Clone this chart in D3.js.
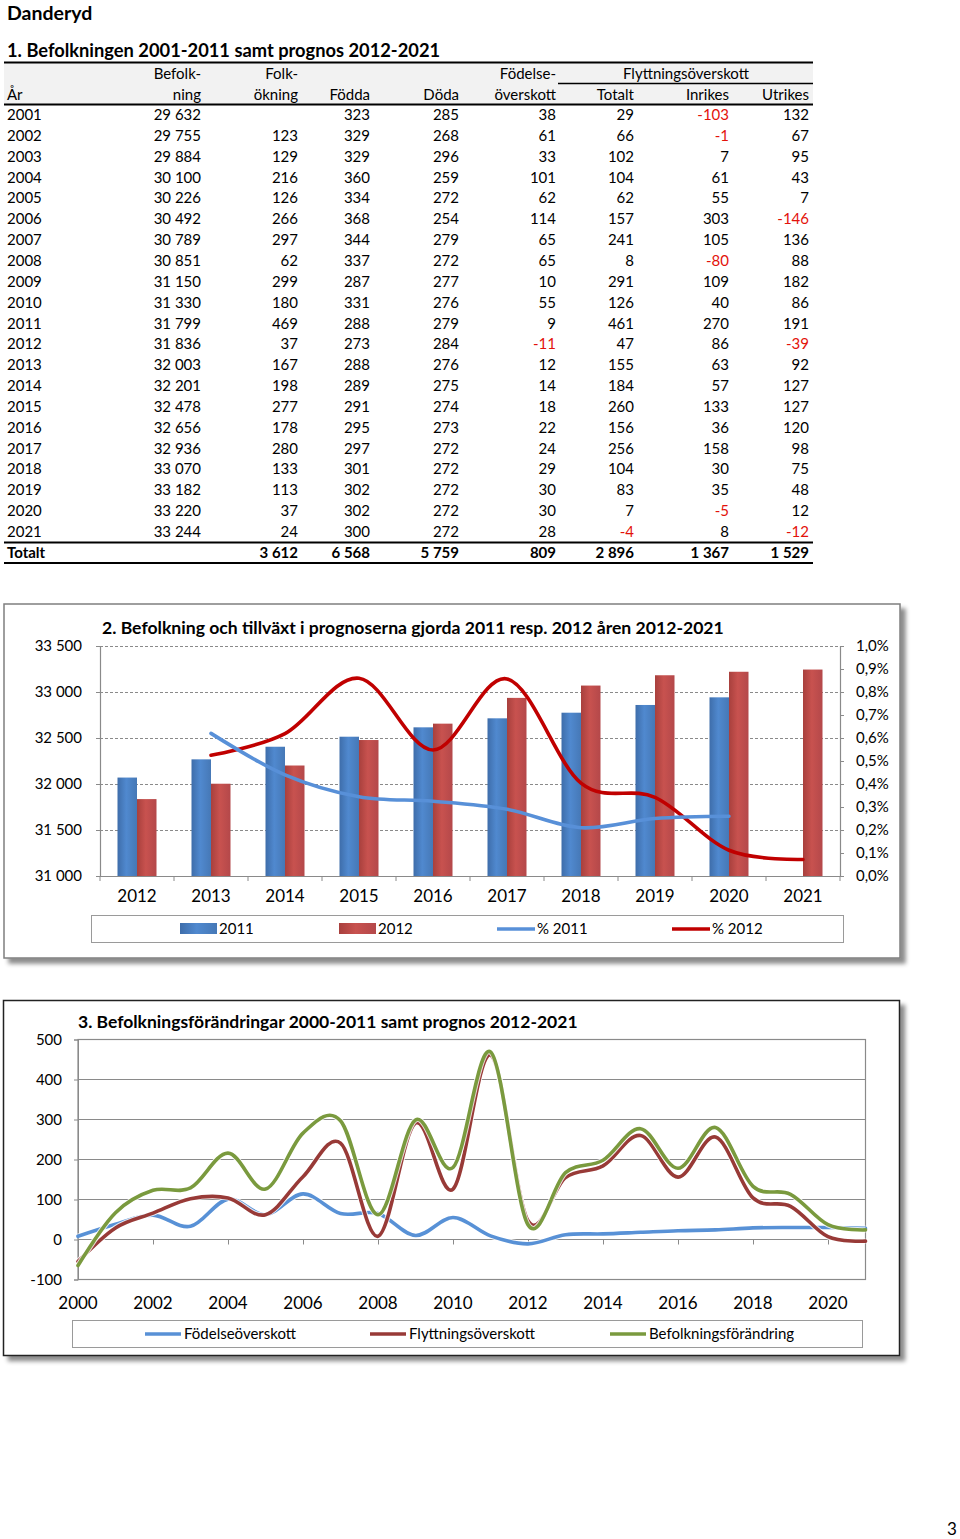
<!DOCTYPE html>
<html><head><meta charset="utf-8">
<script src="https://cdn.jsdelivr.net/npm/d3@7"></script>
<style>
html,body{margin:0;padding:0;background:#fff;}
svg{display:block;font-family:Lato,"Open Sans",sans-serif;}
</style></head>
<body>
<svg id="page" width="960" height="1539"></svg>
<script>
// ---------- DATA: table 1 ----------
const years = [2001,2002,2003,2004,2005,2006,2007,2008,2009,2010,2011,2012,2013,2014,2015,2016,2017,2018,2019,2020,2021];
const befolkning = [29632,29755,29884,30100,30226,30492,30789,30851,31150,31330,31799,31836,32003,32201,32478,32656,32936,33070,33182,33220,33244];
const folkokning = [null,123,129,216,126,266,297,62,299,180,469,37,167,198,277,178,280,133,113,37,24];
const fodda = [323,329,329,360,334,368,344,337,287,331,288,273,288,289,291,295,297,301,302,302,300];
const doda = [285,268,296,259,272,254,279,272,277,276,279,284,276,275,274,273,272,272,272,272,272];
const fodelseoverskott = [38,61,33,101,62,114,65,65,10,55,9,-11,12,14,18,22,24,29,30,30,28];
const flyttTotalt = [29,66,102,104,62,157,241,8,291,126,461,47,155,184,260,156,256,104,83,7,-4];
const flyttInrikes = [-103,-1,7,61,55,303,105,-80,109,40,270,86,63,57,133,36,158,30,35,-5,8];
const flyttUtrikes = [132,67,95,43,7,-146,136,88,182,86,191,-39,92,127,127,120,98,75,48,12,-12];
// totals per column: Befolkning, Folkökning, Födda, Döda, Födelseöverskott, Totalt, Inrikes, Utrikes
const totalRow = [null,3612,6568,5759,809,2896,1367,1529];

// ---------- DATA: chart 2 ----------
const c2Years = ["2012","2013","2014","2015","2016","2017","2018","2019","2020","2021"];
const prog2011 = [32070,32268,32405,32514,32616,32714,32775,32859,32942,null];
const prog2012 = [31836,32003,32201,32478,32656,32936,33070,33182,33220,33244];
const pct2011 = [null,0.0062,0.0044,0.00345,0.00325,0.0029,0.0021,0.0025,0.0026,null];
const pct2012 = [null,0.00525,0.00619,0.0086,0.00548,0.00857,0.00404,0.00342,0.00112,0.00072];
const c2LeftTicks = [31000,31500,32000,32500,33000,33500];
const c2RightTicks = [0,0.001,0.002,0.003,0.004,0.005,0.006,0.007,0.008,0.009,0.01];

// ---------- DATA: chart 3 ----------
const c3Years = [2000,2001,2002,2003,2004,2005,2006,2007,2008,2009,2010,2011,2012,2013,2014,2015,2016,2017,2018,2019,2020,2021];
const c3Fodelse = [8,38,61,33,101,62,114,65,65,10,55,9,-11,12,14,18,22,24,29,30,30,28];
const c3Flytt = [-55,29,66,102,104,62,157,241,8,291,126,461,47,155,184,260,156,256,104,83,7,-4];
const c3Befolk = [-65,67,123,129,216,126,266,297,62,299,180,469,37,167,198,277,178,280,133,113,37,24];
const c3YTicks = [-100,0,100,200,300,400,500];
const c3XTicks = [2000,2002,2004,2006,2008,2010,2012,2014,2016,2018,2020];

// ---------- helpers ----------
const se = d3.formatLocale({decimal:",", thousands:"\u2009", grouping:[3], currency:["","kr"], percent:"%"});
const fmtNum = v => v==null ? "" : se.format(",d")(v).replace(/\u2009/g," ").replace("−","-");
const fmtPct = se.format(".1%");

const svg = d3.select("#page");
svg.append("rect").attr("width",960).attr("height",1539).attr("fill","#fff");
const defs = svg.append("defs");
const sh = defs.append("filter").attr("id","shadow").attr("x","-5%").attr("y","-5%").attr("width","115%").attr("height","115%");
sh.append("feDropShadow").attr("dx",5).attr("dy",5).attr("stdDeviation",2).attr("flood-color","#000").attr("flood-opacity",0.45);

function grad(id, c0, c1, c2){
  const g = defs.append("linearGradient").attr("id",id).attr("x1","0").attr("x2","1").attr("y1","0").attr("y2","0");
  g.append("stop").attr("offset","0").attr("stop-color",c0);
  g.append("stop").attr("offset","0.45").attr("stop-color",c1);
  g.append("stop").attr("offset","1").attr("stop-color",c2);
}
grad("gBlue","#3E6DAA","#5089CF","#4678B6");
grad("gRed","#A8403D","#C8524F","#B4484A");

// ---------- Titles ----------
svg.append("text").attr("x",7).attr("y",19.5).attr("font-size",19.5).attr("font-weight",700).attr("fill","#000").text("Danderyd");
svg.append("text").attr("x",7).attr("y",57).attr("font-size",18.3).attr("font-weight",700).attr("fill","#000").text("1. Befolkningen 2001-2011 samt prognos 2012-2021");

// ---------- Table ----------
const T = svg.append("g").attr("font-size",15).attr("fill","#000");
T.append("rect").attr("x",4).attr("y",62).attr("width",809).attr("height",42).attr("fill","#f2f2f2");
const colRight = [null,201,298,370,459,556,634,729,809];
const hdr1 = [null,"Befolk-","Folk-",null,null,"Födelse-",null,null,null];
const hdr2 = ["År","ning","ökning","Födda","Döda","överskott","Totalt","Inrikes","Utrikes"];
hdr1.forEach((t,i)=>{ if(t) T.append("text").attr("x",colRight[i]).attr("y",79).attr("text-anchor","end").text(t); });
T.append("text").attr("x",686).attr("y",79).attr("text-anchor","middle").text("Flyttningsöverskott");
hdr2.forEach((t,i)=>{ T.append("text").attr("x", i===0?7:colRight[i]).attr("y",100).attr("text-anchor", i===0?"start":"end").text(t); });

const rowY = d3.scaleLinear().domain([0,1]).range([120,140.85]);
const cols = [befolkning,folkokning,fodda,doda,fodelseoverskott,flyttTotalt,flyttInrikes,flyttUtrikes];
years.forEach((y,r)=>{
  T.append("text").attr("x",7).attr("y",rowY(r)).text(y);
  cols.forEach((arr,c)=>{
    const v = arr[r];
    if(v==null) return;
    T.append("text").attr("x",colRight[c+1]).attr("y",rowY(r)).attr("text-anchor","end")
      .attr("fill", v<0 ? "#e3120b" : "#000").text(fmtNum(v));
  });
});
const totY = rowY(years.length);
T.append("text").attr("x",7).attr("y",totY).attr("font-weight",700).text("Totalt");
totalRow.forEach((v,c)=>{ if(v!=null) T.append("text").attr("x",colRight[c+1]).attr("y",totY).attr("text-anchor","end").attr("font-weight",700).text(fmtNum(v)); });

function hline(x1,x2,y,w){ svg.append("line").attr("x1",x1).attr("x2",x2).attr("y1",y).attr("y2",y).attr("stroke","#000").attr("stroke-width",w); }
hline(4,813,62.5,2);
hline(558,813,83.5,1.5);
hline(4,813,104.5,2);
hline(4,813,542.5,2);
hline(4,813,563,2);

// ---------- Chart 2 ----------
const C2 = svg.append("g");
C2.append("rect").attr("x",4).attr("y",604).attr("width",896).attr("height",354).attr("fill","#fff")
  .attr("stroke","#7f7f7f").attr("stroke-width",1.5).attr("filter","url(#shadow)");
C2.append("text").attr("x",102).attr("y",634).attr("font-size",17.6).attr("font-weight",700).text("2. Befolkning och tillväxt i prognoserna gjorda 2011 resp. 2012 åren 2012-2021");

const x2 = d3.scaleBand().domain(c2Years).range([100,840]);
const y2 = d3.scaleLinear().domain([31000,33500]).range([876,646]);
const y2r = d3.scaleLinear().domain([0,0.01]).range([876,646]);

C2.append("g").selectAll("line").data(c2LeftTicks.slice(1)).join("line")
  .attr("x1",100).attr("x2",840).attr("y1",d=>y2(d)+0.5).attr("y2",d=>y2(d)+0.5)
  .attr("stroke","#8a8a8a").attr("stroke-width",1).attr("stroke-dasharray","3,2");

const bw = 19.5;
C2.append("g").selectAll("rect").data(c2Years.map((c,i)=>({c,v:prog2011[i]})).filter(d=>d.v!=null)).join("rect")
  .attr("x",d=>x2(d.c)+x2.bandwidth()/2-bw).attr("width",bw)
  .attr("y",d=>y2(d.v)).attr("height",d=>y2(31000)-y2(d.v)).attr("fill","url(#gBlue)");
C2.append("g").selectAll("rect").data(c2Years.map((c,i)=>({c,v:prog2012[i]}))).join("rect")
  .attr("x",d=>x2(d.c)+x2.bandwidth()/2).attr("width",bw)
  .attr("y",d=>y2(d.v)).attr("height",d=>y2(31000)-y2(d.v)).attr("fill","url(#gRed)");

const axL = C2.append("g").attr("transform","translate(100,0)")
  .call(d3.axisLeft(y2).tickValues(c2LeftTicks).tickSize(4).tickPadding(14).tickFormat(d=>fmtNum(d)));
const axR = C2.append("g").attr("transform","translate(840,0)")
  .call(d3.axisRight(y2r).tickValues(c2RightTicks).tickSize(4).tickPadding(12).tickFormat(fmtPct));
const axB = C2.append("g").attr("transform","translate(0,876)")
  .call(d3.axisBottom(x2).tickSize(0).tickPadding(14));
C2.append("g").selectAll("line").data(d3.range(c2Years.length+1)).join("line")
  .attr("x1",i=>100+i*x2.step()).attr("x2",i=>100+i*x2.step()).attr("y1",876).attr("y2",881)
  .attr("stroke","#8a8a8a");
[axL,axR,axB].forEach(a=>{
  a.selectAll("path").attr("stroke","#8a8a8a").attr("stroke-width",1.2);
  a.selectAll("line").attr("stroke","#8a8a8a");
  a.selectAll("text").attr("font-family","Lato, sans-serif").attr("fill","#000");
});
axL.selectAll("text").attr("font-size",15);
axR.selectAll("text").attr("font-size",15);
axB.selectAll("text").attr("font-size",17);
C2.append("line").attr("x1",100).attr("x2",840).attr("y1",646.5).attr("y2",646.5).attr("stroke","#8a8a8a").attr("stroke-dasharray","3,2");

const line2 = (arr,yS)=> d3.line().defined(d=>d.v!=null).x(d=>x2(d.c)+x2.bandwidth()/2).y(d=>yS(d.v))
  .curve(d3.curveCatmullRom.alpha(0))(c2Years.map((c,i)=>({c,v:arr[i]})));
C2.append("path").attr("d",line2(pct2012,y2r)).attr("fill","none").attr("stroke","#C00000").attr("stroke-width",3.6).attr("stroke-linecap","round");
C2.append("path").attr("d",line2(pct2011,y2r)).attr("fill","none").attr("stroke","#5890D8").attr("stroke-width",3.6).attr("stroke-linecap","round");

const L2 = C2.append("g").attr("font-size",15);
L2.append("rect").attr("x",91.5).attr("y",915.5).attr("width",752).attr("height",27).attr("fill","#fff").attr("stroke","#9a9a9a");
L2.append("rect").attr("x",180).attr("y",923).attr("width",37).attr("height",11).attr("fill","url(#gBlue)");
L2.append("text").attr("x",219).attr("y",934).text("2011");
L2.append("rect").attr("x",339).attr("y",923).attr("width",37).attr("height",11).attr("fill","url(#gRed)");
L2.append("text").attr("x",378).attr("y",934).text("2012");
L2.append("line").attr("x1",497).attr("x2",535).attr("y1",929).attr("y2",929).attr("stroke","#5890D8").attr("stroke-width",3.6);
L2.append("text").attr("x",537).attr("y",934).text("% 2011");
L2.append("line").attr("x1",672).attr("x2",710).attr("y1",929).attr("y2",929).attr("stroke","#C00000").attr("stroke-width",3.6);
L2.append("text").attr("x",712).attr("y",934).text("% 2012");

// ---------- Chart 3 ----------
const C3 = svg.append("g");
C3.append("rect").attr("x",3.5).attr("y",1000.5).attr("width",896).attr("height",355).attr("fill","#fff")
  .attr("stroke","#222").attr("stroke-width",1.5).attr("filter","url(#shadow)");
C3.append("text").attr("x",78).attr("y",1028).attr("font-size",17.5).attr("font-weight",700).text("3. Befolkningsförändringar 2000-2011 samt prognos 2012-2021");

const x3 = d3.scaleLinear().domain([2000,2021]).range([78,865.5]);
const y3 = d3.scaleLinear().domain([-100,500]).range([1279.5,1039.5]);

C3.append("g").selectAll("line").data(c3YTicks.filter(d=>d>-100 && d<500)).join("line")
  .attr("x1",78).attr("x2",865.5).attr("y1",d=>y3(d)).attr("y2",d=>y3(d))
  .attr("stroke","#8a8a8a").attr("stroke-width",1);
C3.append("rect").attr("x",78).attr("y",y3(500)).attr("width",787.5).attr("height",y3(-100)-y3(500))
  .attr("fill","none").attr("stroke","#8a8a8a").attr("stroke-width",1.2);
const ax3L = C3.append("g").attr("transform","translate(78,0)")
  .call(d3.axisLeft(y3).tickValues(c3YTicks).tickSize(4).tickPadding(12).tickFormat(d=>String(d)));
const ax3B = C3.append("g").attr("transform",`translate(0,${y3(0)})`)
  .call(d3.axisBottom(x3).tickValues(c3XTicks).tickSize(5).tickPadding(0).tickFormat(d=>String(d)));
ax3B.selectAll("text").remove();
ax3B.select("path").remove();
C3.append("g").selectAll("text").data(c3XTicks).join("text")
  .attr("x",d=>x3(d)).attr("y",1309).attr("text-anchor","middle").attr("font-size",17).text(d=>d);
[ax3L,ax3B].forEach(a=>{
  a.selectAll("path").attr("stroke","#8a8a8a");
  a.selectAll("line").attr("stroke","#8a8a8a");
  a.selectAll("text").attr("font-family","Lato, sans-serif").attr("font-size",15).attr("fill","#000");
});

const line3 = arr => d3.line().x((d,i)=>x3(c3Years[i])).y(d=>y3(d)).curve(d3.curveCatmullRom.alpha(0))(arr);
[[c3Fodelse,"#5891D6"],[c3Flytt,"#983A37"],[c3Befolk,"#7A9A3E"]].forEach(([arr,col])=>{
  C3.append("path").attr("d",line3(arr)).attr("fill","none").attr("stroke","#fff").attr("stroke-width",5.5).attr("stroke-opacity",0.8);
  C3.append("path").attr("d",line3(arr)).attr("fill","none").attr("stroke",col).attr("stroke-width",3.6).attr("stroke-linecap","round");
});

const L3 = C3.append("g").attr("font-size",15);
L3.append("rect").attr("x",72.5).attr("y",1320.5).attr("width",790).attr("height",27).attr("fill","#fff").attr("stroke","#9a9a9a");
[["Födelseöverskott","#5891D6",145],["Flyttningsöverskott","#983A37",370],["Befolkningsförändring","#7A9A3E",610]].forEach(([t,c,x])=>{
  L3.append("line").attr("x1",x).attr("x2",x+36).attr("y1",1334).attr("y2",1334).attr("stroke",c).attr("stroke-width",3.6);
  L3.append("text").attr("x",x+39).attr("y",1339).text(t);
});

svg.append("text").attr("x",952).attr("y",1535).attr("text-anchor","middle").attr("font-size",17).text("3");
</script>
</body></html>
